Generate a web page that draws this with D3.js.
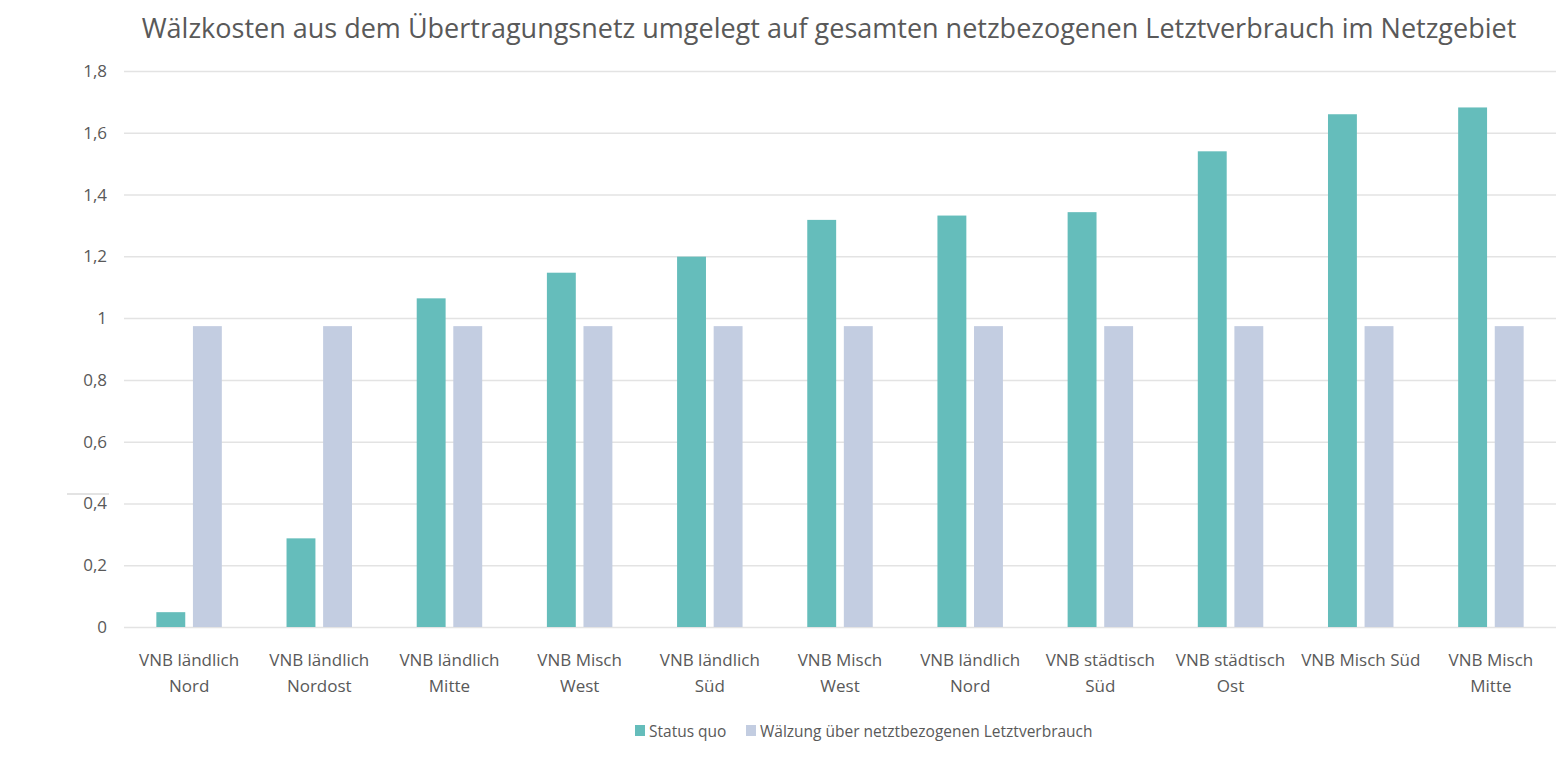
<!DOCTYPE html>
<html>
<head>
<meta charset="utf-8">
<script src="https://cdn.jsdelivr.net/npm/d3@7"></script>
<style>
  body { margin: 0; background: #fff; }
  svg { font-family: "Open Sans", "Liberation Sans", sans-serif; }
</style>
</head>
<body>
<svg width="1567" height="779"></svg>
<script>
const svg = d3.select('svg');

const width = +svg.attr('width');
const height = +svg.attr('height');

// data
const categories = [
  'VNB ländlich Nord', 'VNB ländlich Nordost', 'VNB ländlich Mitte', 'VNB Misch West',
  'VNB ländlich Süd', 'VNB Misch West', 'VNB ländlich Nord', 'VNB städtisch Süd',
  'VNB städtisch Ost', 'VNB Misch Süd', 'VNB Misch Mitte'
];
const seriesNames = ['Status quo', 'Wälzung über netztbezogenen Letztverbrauch'];
const statusQuo = [0.048, 0.287, 1.064, 1.147, 1.199, 1.318, 1.332, 1.343, 1.540, 1.660, 1.682];
const waelzung = [0.974, 0.974, 0.974, 0.974, 0.974, 0.974, 0.974, 0.974, 0.974, 0.974, 0.974];
const yTicks = [0, 0.2, 0.4, 0.6, 0.8, 1, 1.2, 1.4, 1.6, 1.8];

const colors = ['#65bdbb', '#c3cde1'];
const textColor = '#595959';

const margin = { top: 71, right: 11, bottom: 152, left: 124 };
const innerW = width - margin.left - margin.right;
const innerH = height - margin.top - margin.bottom;

const x0 = d3.scaleBand()
  .domain(d3.range(categories.length))
  .range([0, innerW])
  .paddingInner(0.497)
  .paddingOuter(0.2485);

const x1 = d3.scaleBand()
  .domain([0, 1])
  .range([0, x0.bandwidth()])
  .paddingInner(0.21);

const y = d3.scaleLinear()
  .domain([0, 1.8])
  .range([innerH, 0]);

const fmt = d => Number.isInteger(d) ? String(d) : d.toFixed(1).replace('.', ',');

// title
svg.append('text')
  .attr('x', 829)
  .attr('y', 38)
  .attr('text-anchor', 'middle')
  .attr('fill', textColor)
  .style('font-size', '27px')
  .text('Wälzkosten aus dem Übertragungsnetz umgelegt auf gesamten netzbezogenen Letztverbrauch im Netzgebiet');

const g = svg.append('g')
  .attr('transform', `translate(${margin.left},${margin.top})`);

// grid lines + y labels
const yAxis = d3.axisLeft(y)
  .tickValues(yTicks)
  .tickSize(-innerW)
  .tickFormat(fmt);

g.append('g')
  .call(yAxis)
  .call(sel => sel.select('.domain').remove())
  .call(sel => sel.selectAll('line').attr('stroke', '#e3e3e3').attr('stroke-width', 1.5))
  .call(sel => sel.selectAll('text')
    .attr('x', -17)
    .attr('fill', textColor)
    .style('font-size', '17px')
    .style('font-family', '"Open Sans", sans-serif'));

// stray short line above the 0,4 label in the original
svg.append('line')
  .attr('x1', 67).attr('x2', 109)
  .attr('y1', 494).attr('y2', 494)
  .attr('stroke', '#c8c8c8')
  .attr('stroke-width', 1.2);

// bars
const rows = categories.map((c, i) => ({ i, values: [statusQuo[i], waelzung[i]] }));

const groups = g.selectAll('.cat')
  .data(rows)
  .enter()
    .append('g')
    .attr('class', 'cat')
    .attr('transform', d => `translate(${x0(d.i)},0)`);

groups.selectAll('rect')
  .data(d => d.values.map((v, k) => ({ k, v })))
  .enter()
    .append('rect')
    .attr('x', d => x1(d.k))
    .attr('width', x1.bandwidth())
    .attr('y', d => y(d.v))
    .attr('height', d => innerH - y(d.v))
    .attr('fill', d => colors[d.k]);

// category labels, wrapped like the original
const wrap = (text, maxW) => {
  text.each(function () {
    const t = d3.select(this);
    const words = t.text().split(' ');
    t.text(null);
    const lines = [];
    let line = [];
    const probe = t.append('tspan');
    words.forEach(w => {
      line.push(w);
      probe.text(line.join(' '));
      if (probe.node().getComputedTextLength() > maxW && line.length > 1) {
        line.pop();
        lines.push(line.join(' '));
        line = [w];
      }
    });
    lines.push(line.join(' '));
    probe.remove();
    lines.forEach((l, k) => {
      t.append('tspan')
        .attr('x', 0)
        .attr('dy', k === 0 ? 0 : 26)
        .text(l);
    });
  });
};

const xAxis = g.append('g')
  .attr('transform', `translate(0,${innerH})`);

xAxis.selectAll('text')
  .data(categories)
  .enter()
    .append('text')
    .attr('transform', (d, i) => `translate(${x0(i) + x0.bandwidth() / 2},39)`)
    .attr('text-anchor', 'middle')
    .attr('fill', textColor)
    .style('font-size', '17px')
    .text(d => d)
    .call(wrap, 124);

// legend
const legend = svg.append('g')
  .attr('transform', 'translate(635,735)');

const legendX = [0, 111];
seriesNames.forEach((name, k) => {
  const item = legend.append('g').attr('transform', `translate(${legendX[k]},0)`);
  item.append('rect')
    .attr('x', 0).attr('y', -10)
    .attr('width', 10).attr('height', 11)
    .attr('fill', colors[k]);
  item.append('text')
    .attr('x', 14)
    .attr('y', 0)
    .attr('dominant-baseline', 'middle')
    .attr('dy', '-0.15em')
    .attr('fill', textColor)
    .style('font-size', '15.5px')
    .text(name);
});
</script>
</body>
</html>
